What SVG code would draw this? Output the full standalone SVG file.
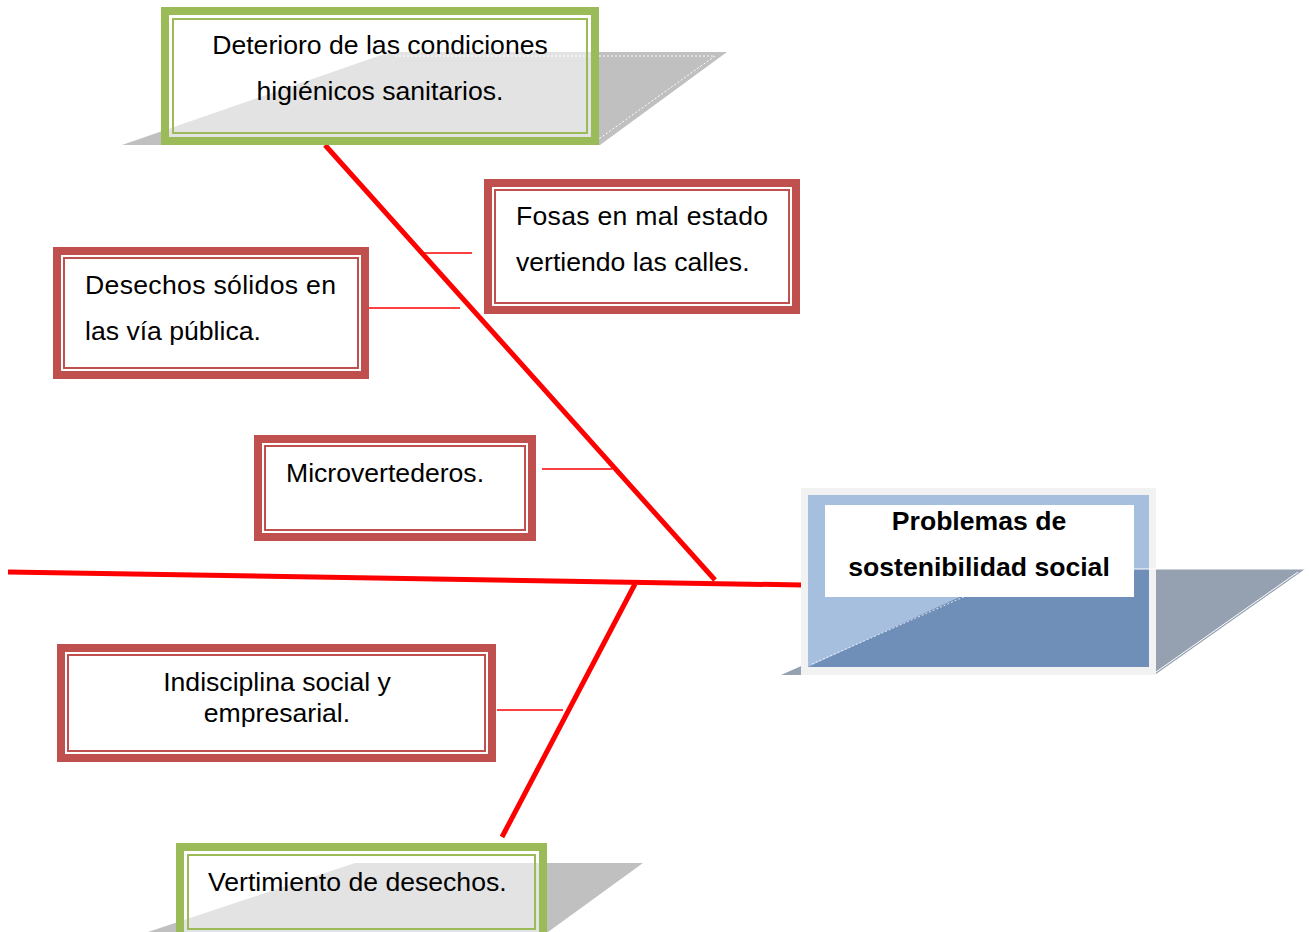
<svg xmlns="http://www.w3.org/2000/svg" width="1309" height="932" viewBox="0 0 1309 932">
<style>
text{font-family:"Liberation Sans",Arial,sans-serif;font-size:26.6px;fill:#000}
.b{font-weight:bold}
.shadow{fill:#C0C0C0}
.gout{fill:none;stroke:#9BBB59;stroke-width:8}
.gin{fill:none;stroke:#9BBB59;stroke-width:2}
.gfill{fill:#FFFFFF;fill-opacity:0.55}
.rout{fill:#FFFFFF;stroke:#C0504D;stroke-width:8}
.rin{fill:none;stroke:#C0504D;stroke-width:2}
.bone{stroke:#FF0000;stroke-width:5;fill:none}
.thin{stroke:#FF0000;stroke-width:1.5;fill:none}
</style>
<g id="connectors">
<line class="bone" x1="8" y1="572" x2="802" y2="585"/>
<line class="bone" x1="325" y1="145" x2="715" y2="580"/>
<line class="bone" x1="635" y1="584" x2="502" y2="837"/>
<line class="thin" x1="424" y1="253" x2="472" y2="253"/>
<line class="thin" x1="369" y1="308" x2="460" y2="308"/>
<line class="thin" x1="542" y1="469" x2="612" y2="469"/>
<line class="thin" x1="497" y1="710" x2="563" y2="710"/>
</g>
<g id="deterioro">
<polygon class="shadow" points="390,52 727,52 600,145 122,145"/>
<polyline points="395,56 715,56 596,141" fill="none" stroke="#FFFFFF" stroke-width="1" stroke-dasharray="2,2"/>
<rect class="gfill" x="165" y="11" width="430" height="130"/>
<rect class="gout" x="165" y="11" width="430" height="130"/>
<rect class="gin" x="173" y="19" width="414" height="114"/>
<text x="380" y="54" text-anchor="middle">Deterioro de las condiciones</text>
<text x="380" y="100" text-anchor="middle">higiénicos sanitarios.</text>
</g>
<g id="fosas">
<rect class="rout" x="488" y="183" width="308" height="127"/>
<rect class="rin" x="495" y="190" width="294" height="113"/>
<text x="516" y="225" textLength="252" lengthAdjust="spacing">Fosas en mal estado</text>
<text x="516" y="271">vertiendo las calles.</text>
</g>
<g id="desechos">
<rect class="rout" x="57" y="251" width="308" height="124"/>
<rect class="rin" x="64" y="258" width="294" height="110"/>
<text x="85" y="294" textLength="251" lengthAdjust="spacing">Desechos sólidos en</text>
<text x="85" y="340">las vía pública.</text>
</g>
<g id="microvertederos">
<rect class="rout" x="258" y="439" width="274" height="98"/>
<rect class="rin" x="265" y="446" width="260" height="84"/>
<text x="286" y="482">Microvertederos.</text>
</g>
<g id="problemas">
<polygon fill="#95A1B0" points="1020,569 1305,569 1156,674 781,675"/>
<rect x="801" y="488" width="355" height="187" fill="#F2F2F2"/>
<rect x="808" y="495" width="341" height="172" fill="#A7BFDE"/>
<polygon fill="#6F8FB8" points="1020,569 1149,569 1149,667 808,667"/>
<line x1="1020" y1="569" x2="1305" y2="569" stroke="#FFFFFF" stroke-width="1"/>
<line x1="1298" y1="572" x2="1156" y2="672" stroke="#FFFFFF" stroke-width="1"/>
<line x1="812" y1="664" x2="1020" y2="572" stroke="#FFFFFF" stroke-width="0.8" stroke-dasharray="2,2"/>
<rect x="825" y="505" width="309" height="92" fill="#FFFFFF"/>
<text class="b" x="979" y="530" text-anchor="middle">Problemas de</text>
<text class="b" x="979" y="576" text-anchor="middle">sostenibilidad social</text>
</g>
<g id="indisciplina">
<rect class="rout" x="61" y="648" width="431" height="110"/>
<rect class="rin" x="68" y="655" width="417" height="96"/>
<text x="277" y="691" text-anchor="middle">Indisciplina social y</text>
<text x="277" y="722" text-anchor="middle">empresarial.</text>
</g>
<g id="vertimiento">
<polygon class="shadow" points="355,863 643,863 548,932 148,932"/>
<rect class="gfill" x="180" y="847" width="363" height="90"/>
<rect class="gout" x="180" y="847" width="363" height="90"/>
<rect class="gin" x="188" y="855" width="347" height="74"/>
<text x="208" y="891">Vertimiento de desechos.</text>
</g>
</svg>
